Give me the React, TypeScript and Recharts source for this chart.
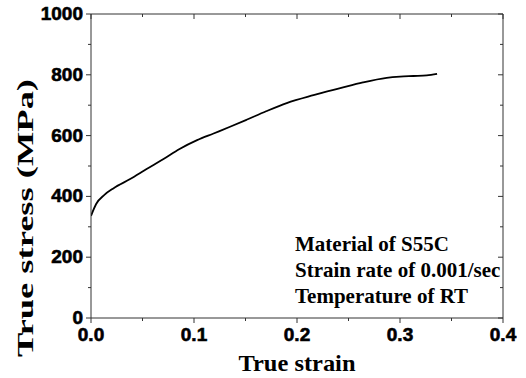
import { LineChart, Line, XAxis, YAxis } from "recharts";

// values
const strain = [0, 0.005, 0.013, 0.022, 0.038, 0.054, 0.07, 0.086, 0.103, 0.119, 0.135, 0.151, 0.17, 0.19, 0.216, 0.242, 0.264, 0.287, 0.3, 0.313, 0.326, 0.336];
const stress = [336, 375, 405, 427, 457, 490, 522, 556, 585, 607, 629, 652, 680, 707, 733, 756, 775, 790, 794, 796, 798, 803];

const xTicks = [0, 0.05, 0.1, 0.15, 0.2, 0.25, 0.3, 0.35, 0.4];
const yTicks = [0, 100, 200, 300, 400, 500, 600, 700, 800, 900, 1000];
const notes = ["Material of S55C", "Strain rate of 0.001/sec", "Temperature of RT"];

const data = strain.map((s, i) => ({ strain: s, stress: stress[i] }));

const AXIS = "#333";
const tickFont = { fontFamily: "Arial, 'Liberation Sans', sans-serif", fontWeight: 700, fontSize: 19 };
const SERIF = "'Times New Roman', 'Liberation Serif', serif";

const isMajorX = (v: number) => Math.abs(v * 10 - Math.round(v * 10)) < 1e-6;
const isMajorY = (v: number) => v % 200 === 0;

function BottomTick(props: any) {
  const { x, y, payload } = props;
  const major = isMajorX(payload.value);
  return (
    <g>
      <line x1={x} x2={x} y1={y} y2={y + (major ? 5 : 3)} stroke={AXIS} />
      {major && (
        <text x={x} y={y + 23} textAnchor="middle" style={tickFont} fill="#000" stroke="#000" strokeWidth={0.6}>
          {payload.value.toFixed(1)}
        </text>
      )}
    </g>
  );
}

function TopTick(props: any) {
  const { x, y, payload } = props;
  const major = isMajorX(payload.value);
  return <line x1={x} x2={x} y1={y} y2={y + (major ? 5 : 3)} stroke={AXIS} />;
}

function LeftTick(props: any) {
  const { x, y, payload } = props;
  const major = isMajorY(payload.value);
  return (
    <g>
      <line x1={x - (major ? 5 : 3)} x2={x} y1={y} y2={y} stroke={AXIS} />
      {major && (
        <text x={x - 8} y={y + 6} textAnchor="end" style={tickFont} fill="#000" stroke="#000" strokeWidth={0.6}>
          {payload.value}
        </text>
      )}
    </g>
  );
}

function RightTick(props: any) {
  const { x, y, payload } = props;
  const major = isMajorY(payload.value);
  return <line x1={x - (major ? 5 : 3)} x2={x} y1={y} y2={y} stroke={AXIS} />;
}

export default function App() {
  return (
    <div style={{ position: "fixed", left: 0, top: 0, width: 526, height: 378, background: "#fff" }}>
      <LineChart width={526} height={378} data={data} margin={{ left: 90, right: 22, top: 13, bottom: 59 }}>
        <XAxis
          dataKey="strain"
          type="number"
          domain={[0, 0.4]}
          ticks={xTicks}
          interval={0}
          height={1}
          tickSize={0}
          tickMargin={0}
          tickLine={false}
          axisLine={{ stroke: AXIS, strokeWidth: 1 }}
          tick={<BottomTick />}
          allowDataOverflow
        />
        <XAxis
          xAxisId="top"
          orientation="top"
          dataKey="strain"
          type="number"
          domain={[0, 0.4]}
          ticks={xTicks}
          interval={0}
          height={1}
          tickSize={0}
          tickMargin={0}
          tickLine={false}
          axisLine={{ stroke: AXIS, strokeWidth: 1 }}
          tick={<TopTick />}
          allowDataOverflow
        />
        <YAxis
          type="number"
          domain={[0, 1000]}
          ticks={yTicks}
          interval={0}
          width={1}
          tickSize={0}
          tickMargin={0}
          tickLine={false}
          axisLine={{ stroke: AXIS, strokeWidth: 1 }}
          tick={<LeftTick />}
          allowDataOverflow
        />
        <YAxis
          yAxisId="right"
          orientation="right"
          type="number"
          domain={[0, 1000]}
          ticks={yTicks}
          interval={0}
          width={1}
          tickSize={0}
          tickMargin={0}
          tickLine={false}
          axisLine={{ stroke: AXIS, strokeWidth: 1 }}
          tick={<RightTick />}
          allowDataOverflow
        />
        <Line
          type="monotone"
          dataKey="stress"
          stroke="#000"
          strokeWidth={1.8}
          dot={false}
          isAnimationActive={false}
        />
        <text
          x={297}
          y={371}
          textAnchor="middle"
          style={{ fontFamily: SERIF, fontWeight: 700, fontSize: 23 }}
          textLength={117}
          lengthAdjust="spacingAndGlyphs"
          fill="#000"
        >
          True strain
        </text>
        <text
          x={33}
          y={218}
          transform="rotate(-90, 33, 218)"
          textAnchor="middle"
          style={{ fontFamily: SERIF, fontWeight: 700, fontSize: 24 }}
          textLength={278}
          lengthAdjust="spacingAndGlyphs"
          fill="#000"
        >
          True stress (MPa)
        </text>
        {notes.map((t, i) => (
          <text key={t} x={295} y={251 + i * 26} style={{ fontFamily: SERIF, fontWeight: 700, fontSize: 21 }} fill="#000">
            {t}
          </text>
        ))}
      </LineChart>
    </div>
  );
}
